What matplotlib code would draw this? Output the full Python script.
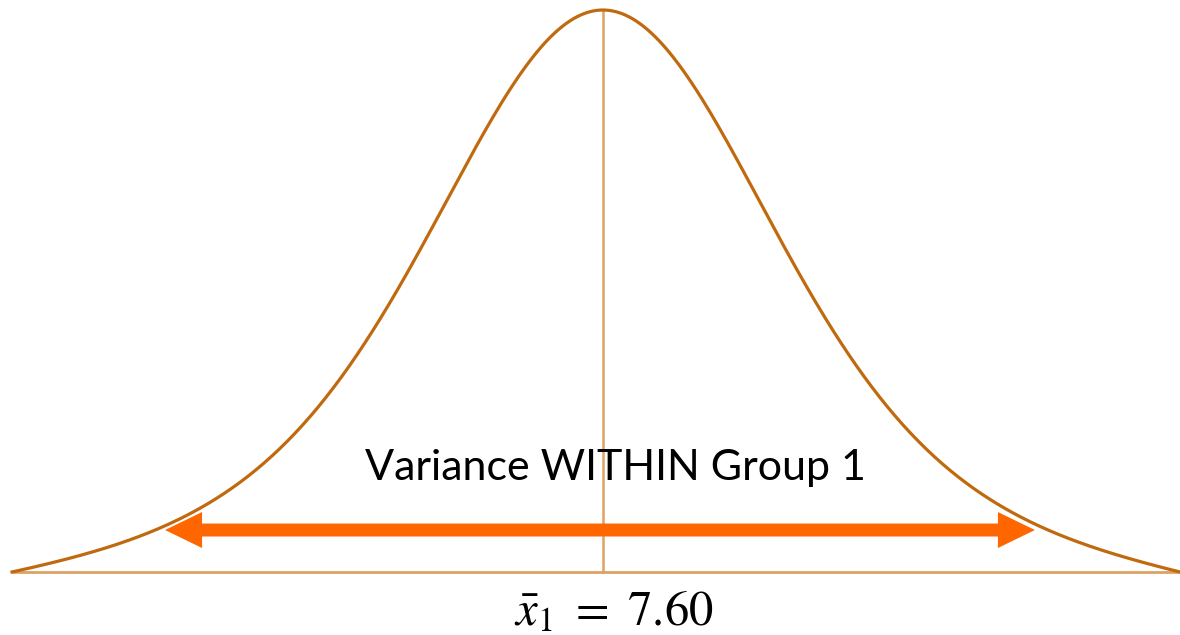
import numpy as np
import matplotlib.pyplot as plt
from matplotlib.patches import FancyArrow

plt.rcParams['mathtext.fontset'] = 'stix'

# group 1 distribution
mean = 7.60
scale = 1.0
df = 6
x_lo, x_hi = 4.317, 10.806          # where the curve meets the baseline
arrow_lo, arrow_hi = 5.167, 10.000  # spread arrow end points
arrow_y = 0.0747
label = "Variance WITHIN Group 1"
mean_label = r"$\bar{x}_1\ =\ 7.60$"

curve_color = '#C06A10'
guide_color = '#DDA263'
arrow_color = '#FF6600'


def shape(x):
    # student-t bell, peak = 1
    t = (x - mean) / scale
    return (1 + t ** 2 / df) ** (-(df + 1) / 2)


x = np.linspace(x_lo, x_hi, 600)
y = shape(x)
# pin both tails down onto the baseline
left = x < mean
y[left] -= shape(x_lo) * ((mean - x[left]) / (mean - x_lo)) ** 4
y[~left] -= shape(x_hi) * ((x[~left] - mean) / (x_hi - mean)) ** 4
y = np.clip(y, 0, None)

fig = plt.figure(figsize=(11.8, 6.35), dpi=100)
ax = fig.add_axes([0, 0, 1, 1])

ax.plot([x_lo, x_hi + 0.2], [0, 0], color=guide_color, lw=2.0, solid_capstyle='butt', zorder=1)
ax.plot([mean, mean], [0, 1], color=guide_color, lw=1.8, zorder=1)
ax.plot(x, y, color=curve_color, lw=2.3, zorder=3)

ax.text(mean + 0.072, 0.1637, label, fontsize=31, family='Lato',
        ha='center', va='baseline', color='black', zorder=2)

# double headed arrow, drawn as two halves from the middle
mid = (arrow_lo + arrow_hi) / 2
for end in (arrow_lo, arrow_hi):
    ax.add_patch(FancyArrow(mid, arrow_y, end - mid, 0, width=0.0231,
                            head_width=0.064, head_length=0.2056,
                            length_includes_head=True, color=arrow_color,
                            lw=0, zorder=4))

ax.text(mean + 0.06, -0.095, mean_label, fontsize=35,
        ha='center', va='baseline', color='black')

ax.set_xlim(4.25, 10.806)
ax.set_ylim(-0.1121, 1.0178)
ax.axis('off')

fig.savefig('out.png', dpi=100, facecolor='white')
